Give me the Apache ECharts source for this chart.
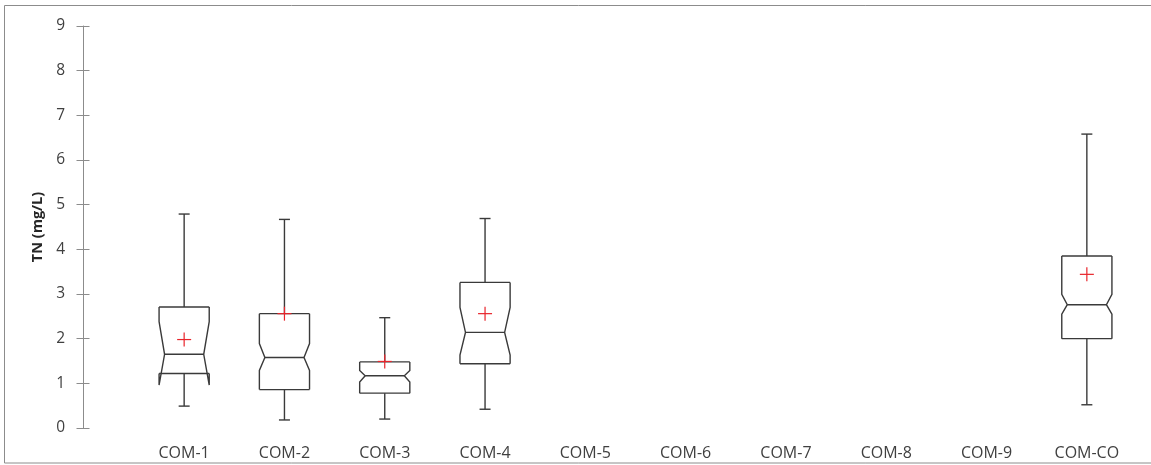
<!DOCTYPE html>
<html>
<head>
<meta charset="utf-8">
<script src="https://cdn.jsdelivr.net/npm/echarts@6/dist/echarts.min.js"></script>
<style>
html,body{margin:0;padding:0;background:#fff;}
#chart{width:1151px;height:465px;}
</style>
</head>
<body>
<div id="chart"></div>
<script>
var categories = ['COM-1','COM-2','COM-3','COM-4','COM-5','COM-6','COM-7','COM-8','COM-9','COM-CO'];
var whiskerLow  = [0.49, 0.18, 0.20, 0.42, null, null, null, null, null, 0.52];
var q1          = [1.22, 0.86, 0.78, 1.44, null, null, null, null, null, 2.00];
var median      = [1.65, 1.58, 1.17, 2.14, null, null, null, null, null, 2.76];
var q3          = [2.71, 2.56, 1.48, 3.26, null, null, null, null, null, 3.85];
var whiskerHigh = [4.79, 4.67, 2.47, 4.69, null, null, null, null, null, 6.58];
var notchLow    = [0.96, 1.29, 1.03, 1.63, null, null, null, null, null, 2.55];
var notchHigh   = [2.38, 1.89, 1.29, 2.70, null, null, null, null, null, 2.99];
var means       = [1.98, 2.56, 1.49, 2.56, null, null, null, null, null, 3.44];
var yTicks = [0,1,2,3,4,5,6,7,8,9];

var boxData = [];
var meanData = [];
for (var i = 0; i < categories.length; i++) {
  if (q1[i] == null) continue;
  boxData.push([i, whiskerLow[i], q1[i], median[i], q3[i], whiskerHigh[i], notchLow[i], notchHigh[i]]);
  meanData.push([i, means[i]]);
}

var boxColor = '#3a3a3a';
var font = 'Open Sans';

function renderBox(params, api) {
  var idx = api.value(0);
  var band = api.size([1, 0])[0];
  var hw = band * 0.25;
  var ind = 5.5;
  var cap = 5.5;
  var p = function (v) { return api.coord([idx, v]); };
  var x = p(api.value(3))[0];
  var yWL = p(api.value(1))[1], yQ1 = p(api.value(2))[1], yMed = p(api.value(3))[1];
  var yQ3 = p(api.value(4))[1], yWH = p(api.value(5))[1];
  var yNL = p(api.value(6))[1], yNH = p(api.value(7))[1];
  var st = {stroke: boxColor, lineWidth: 1.4, fill: null};
  function side(s) {
    return {type: 'polyline', shape: {points: [
      [x + s * hw, yQ3], [x + s * hw, yNH], [x + s * (hw - ind), yMed], [x + s * hw, yNL], [x + s * hw, yQ1]
    ]}, style: st};
  }
  function ln(x1, y1, x2, y2) {
    return {type: 'line', shape: {x1: x1, y1: y1, x2: x2, y2: y2}, style: st};
  }
  return {type: 'group', children: [
    side(-1), side(1),
    ln(x - hw, yQ3, x + hw, yQ3),
    ln(x - hw, yQ1, x + hw, yQ1),
    ln(x - hw + ind, yMed, x + hw - ind, yMed),
    ln(x, yQ3, x, yWH), ln(x - cap, yWH, x + cap, yWH),
    ln(x, yQ1, x, yWL), ln(x - cap, yWL, x + cap, yWL)
  ]};
}

function renderMean(params, api) {
  var c = api.coord([api.value(0), api.value(1)]);
  var s = 7;
  var st = {stroke: '#e8242b', lineWidth: 1.2};
  return {type: 'group', children: [
    {type: 'line', shape: {x1: c[0] - s, y1: c[1], x2: c[0] + s, y2: c[1]}, style: st},
    {type: 'line', shape: {x1: c[0], y1: c[1] - s, x2: c[0], y2: c[1] + s}, style: st}
  ]};
}

var chart = echarts.init(document.getElementById('chart'));
chart.setOption({
  animation: false,
  backgroundColor: '#fff',
  grid: {left: 134, right: 14, top: 26, bottom: 37, containLabel: false},
  xAxis: {
    type: 'category', data: categories, boundaryGap: true,
    axisLine: {show: false}, axisTick: {show: false}, splitLine: {show: false},
    axisLabel: {color: '#404040', fontSize: 16, fontFamily: font, margin: 17, interval: 0}
  },
  yAxis: [{
    type: 'value', min: 0, max: 9, interval: 1, offset: 51, position: 'left',
    name: 'TN (mg/L)', nameLocation: 'middle', nameGap: 34,
    nameTextStyle: {fontWeight: 'bold', fontSize: 14.5, color: '#262626', fontFamily: font},
    axisLine: {show: true, lineStyle: {color: '#8c8c8c', width: 1}},
    axisTick: {show: true, length: 6.5, lineStyle: {color: '#8c8c8c'}},
    splitLine: {show: false},
    axisLabel: {color: '#404040', fontSize: 15.5, fontFamily: font, margin: 18,
      formatter: function (v) { return yTicks.indexOf(v) >= 0 ? String(v) : ''; }}
  }, {
    type: 'value', min: 0, max: 9, interval: 1, offset: 51, position: 'left',
    axisLine: {show: false},
    axisTick: {show: true, inside: true, length: 6.5, lineStyle: {color: '#8c8c8c'}},
    splitLine: {show: false}, axisLabel: {show: false}
  }],
  graphic: [{
    type: 'rect', z: 100, silent: true,
    shape: {x: 4.5, y: 5.5, width: 1200, height: 457.5},
    style: {fill: null, stroke: '#8c8c8c', lineWidth: 1}
  }],
  series: [{
    type: 'custom', renderItem: renderBox, data: boxData,
    encode: {x: 0, y: [1, 2, 3, 4, 5]}
  }, {
    type: 'custom', renderItem: renderMean, data: meanData, z: 5,
    encode: {x: 0, y: 1}
  }]
});
</script>
</body>
</html>
